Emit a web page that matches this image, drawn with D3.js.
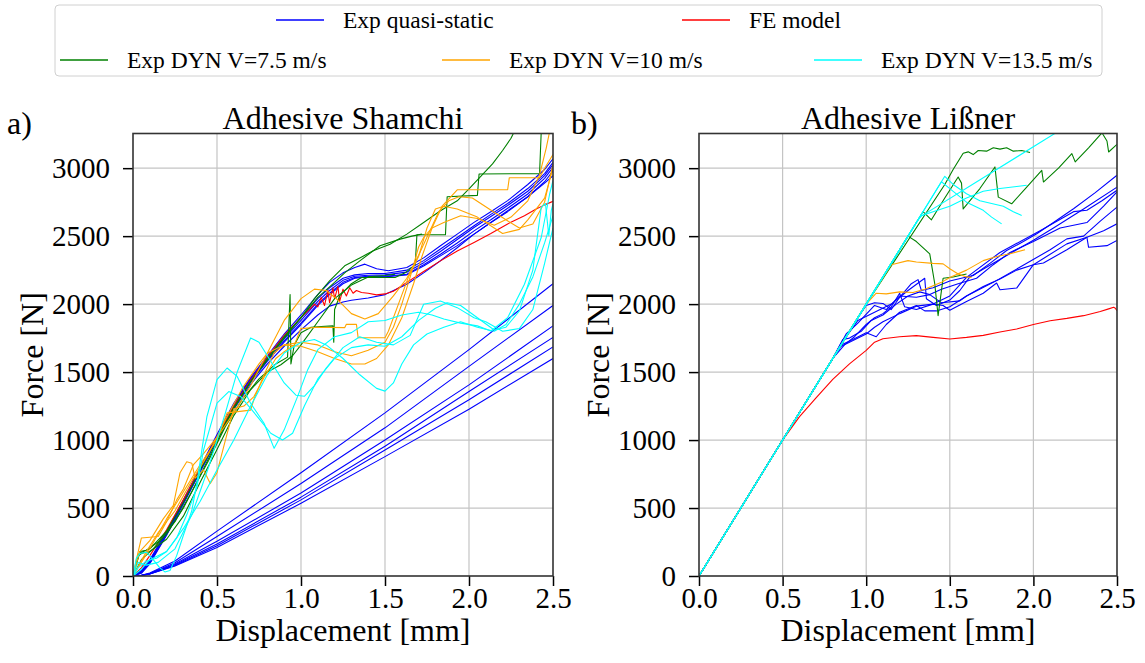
<!DOCTYPE html>
<html><head><meta charset="utf-8">
<script src="https://cdn.jsdelivr.net/npm/d3@7"></script>
<style>html,body{margin:0;padding:0;background:#fff;} svg{display:block;} text{font-family:"Liberation Serif","Times New Roman",serif;fill:#000;}</style>
</head><body>
<script>
// ---------- ticks / labels ----------
const xTicks = [0, 0.5, 1.0, 1.5, 2.0, 2.5];
const yTicks = [0, 500, 1000, 1500, 2000, 2500, 3000];
const panelTitles = ["Adhesive Shamchi", "Adhesive Li\u00dfner"];
const panelLetters = ["a)", "b)"];
const legendLabels = ["Exp quasi-static", "FE model", "Exp DYN V=7.5 m/s", "Exp DYN V=10 m/s", "Exp DYN V=13.5 m/s"];

// ---------- panel a: Shamchi ----------
const shamchiQuasiStatic = [
 [[0,0],[0.05,40],[0.1,120],[0.2,330],[0.3,560],[0.4,800],[0.5,1040],[0.6,1270],[0.7,1460],[0.8,1620],[0.9,1780],[1.0,1920],[1.1,2070],[1.17,2160],[1.25,2230],[1.32,2270],[1.38,2294],[1.45,2260],[1.52,2245],[1.63,2269],[1.73,2340],[1.83,2429],[1.93,2515],[2.03,2601],[2.13,2680],[2.23,2761],[2.35,2880],[2.45,2990],[2.5,3068]],
 [[0,0],[0.05,35],[0.1,110],[0.2,320],[0.3,550],[0.4,790],[0.5,1030],[0.6,1260],[0.7,1450],[0.8,1610],[0.9,1760],[1.0,1900],[1.1,2040],[1.17,2120],[1.25,2190],[1.32,2215],[1.4,2225],[1.5,2225],[1.63,2250],[1.73,2320],[1.83,2405],[1.93,2490],[2.03,2576],[2.13,2660],[2.23,2740],[2.35,2850],[2.45,2960],[2.5,3043]],
 [[0,0],[0.05,30],[0.1,105],[0.2,315],[0.3,545],[0.4,785],[0.5,1025],[0.6,1255],[0.7,1445],[0.8,1600],[0.9,1745],[1.0,1880],[1.1,2020],[1.17,2100],[1.25,2175],[1.32,2205],[1.4,2212],[1.5,2215],[1.63,2235],[1.73,2305],[1.83,2387],[1.93,2475],[2.03,2564],[2.13,2645],[2.23,2725],[2.35,2830],[2.45,2945],[2.5,3026]],
 [[0,0],[0.05,28],[0.1,100],[0.2,310],[0.3,540],[0.4,780],[0.5,1015],[0.6,1245],[0.7,1435],[0.8,1590],[0.9,1730],[1.0,1860],[1.1,2000],[1.17,2080],[1.25,2160],[1.32,2195],[1.4,2205],[1.5,2205],[1.63,2220],[1.73,2290],[1.83,2367],[1.93,2450],[2.03,2539],[2.13,2620],[2.23,2705],[2.35,2810],[2.45,2925],[2.5,3006]],
 [[0,0],[0.05,25],[0.1,95],[0.2,305],[0.3,535],[0.4,775],[0.5,1010],[0.6,1240],[0.7,1425],[0.8,1580],[0.9,1720],[1.0,1850],[1.1,1990],[1.17,2070],[1.25,2150],[1.32,2190],[1.4,2200],[1.5,2200],[1.63,2215],[1.73,2280],[1.83,2355],[1.93,2430],[2.03,2515],[2.13,2600],[2.23,2680],[2.35,2790],[2.45,2900],[2.5,2981]],
 [[0,0],[0.05,20],[0.1,90],[0.2,300],[0.3,530],[0.4,765],[0.5,1000],[0.6,1225],[0.7,1410],[0.8,1560],[0.9,1690],[1.0,1810],[1.1,1920],[1.17,1985],[1.25,2015],[1.3,2028],[1.4,2045],[1.5,2070],[1.63,2146],[1.73,2230],[1.83,2319],[1.93,2415],[2.03,2515],[2.13,2600],[2.23,2687],[2.35,2790],[2.45,2890],[2.5,2945]],
 [[0,0],[0.05,6],[0.1,22],[0.25,110],[0.5,330],[1.0,760],[1.5,1200],[2.0,1665],[2.5,2150]],
 [[0,0],[0.05,5],[0.1,19],[0.25,98],[0.5,290],[1.0,680],[1.5,1090],[2.0,1542],[2.5,1990]],
 [[0,0],[0.05,5],[0.1,17],[0.25,88],[0.5,255],[1.0,610],[1.5,1000],[2.0,1406],[2.5,1840]],
 [[0,0],[0.05,4],[0.1,16],[0.25,82],[0.5,235],[1.0,580],[1.5,955],[2.0,1357],[2.5,1755]],
 [[0,0],[0.05,4],[0.1,15],[0.25,78],[0.5,222],[1.0,560],[1.5,927],[2.0,1296],[2.5,1685]],
 [[0,0],[0.05,4],[0.1,14],[0.25,74],[0.5,210],[1.0,535],[1.5,878],[2.0,1227],[2.5,1600]]
];
const shamchiFE = [
 [[0,0],[0.05,60],[0.1,150],[0.2,340],[0.3,560],[0.4,790],[0.5,1020],[0.6,1250],[0.7,1440],[0.8,1610],[0.9,1770],[1.0,1900],[1.05,1960],[1.08,2000],[1.1,1980],[1.12,2050],[1.14,1990],[1.16,2100],[1.17,2010],[1.19,2120],[1.2,2040],[1.22,2130],[1.23,2020],[1.25,2110],[1.27,2060],[1.29,2120],[1.31,2080],[1.33,2100],[1.36,2085],[1.4,2080],[1.45,2068],[1.5,2075],[1.55,2095],[1.63,2160],[1.73,2240],[1.83,2318],[1.93,2390],[2.03,2454],[2.13,2520],[2.23,2590],[2.33,2650],[2.4,2700],[2.45,2730],[2.5,2756]]
];
const shamchiDyn75 = [
 [[0,0],[0.04,170],[0.1,200],[0.2,330],[0.3,540],[0.4,780],[0.5,1010],[0.6,1240],[0.7,1430],[0.8,1600],[0.9,1760],[1.0,1900],[1.08,2040],[1.17,2171],[1.26,2282],[1.35,2340],[1.43,2392],[1.53,2440],[1.63,2515],[1.73,2600],[1.83,2687],[1.93,2760],[2.0,2847],[2.07,2940],[2.14,3031],[2.2,3130],[2.25,3220],[2.27,3270]],
 [[0,0],[0.05,120],[0.12,200],[0.2,310],[0.3,500],[0.4,740],[0.5,990],[0.6,1230],[0.7,1430],[0.8,1590],[0.9,1750],[1.0,1900],[1.1,2050],[1.2,2160],[1.26,2230],[1.35,2318],[1.47,2429],[1.59,2478],[1.66,2500],[1.72,2515]],
 [[0,0],[0.04,180],[0.08,190],[0.15,250],[0.25,400],[0.35,620],[0.45,850],[0.55,1100],[0.65,1300],[0.75,1450],[0.85,1560],[0.92,1610],[0.935,2070],[0.94,1560],[0.96,1700],[1.0,1790],[1.06,1830],[1.12,1835],[1.19,1840],[1.195,1720],[1.2,1960],[1.23,2060],[1.3,2150],[1.36,2196],[1.56,2196],[1.62,2230],[1.68,2290],[1.69,2510],[1.86,2510],[1.87,2790],[2.05,2800],[2.06,2957],[2.42,2960],[2.43,3270]],
 [[0,0],[0.03,150],[0.06,170],[0.1,180],[0.2,270],[0.3,440],[0.4,690],[0.5,930],[0.6,1180],[0.7,1370],[0.8,1500],[0.88,1554],[0.95,1620],[1.0,1700],[1.1,1870],[1.2,2040],[1.3,2140],[1.4,2200],[1.5,2210],[1.56,2220]]
];
const shamchiDyn10 = [
 [[0,0],[0.02,120],[0.05,280],[0.15,290],[0.2,400],[0.26,560],[0.3,640],[0.36,820],[0.42,900],[0.5,1020],[0.6,1200],[0.7,1400],[0.8,1640],[0.9,1880],[1.0,2040],[1.08,2110],[1.15,2100],[1.22,2030],[1.3,1930],[1.38,1890],[1.46,1930],[1.55,2060],[1.63,2190],[1.7,2360],[1.76,2520],[1.82,2680],[1.88,2760],[1.94,2790],[2.02,2780],[2.12,2700],[2.22,2620],[2.3,2560],[2.38,2590],[2.45,2750],[2.5,3030]],
 [[0,0],[0.04,180],[0.1,260],[0.18,420],[0.24,520],[0.28,760],[0.32,840],[0.35,830],[0.37,720],[0.42,780],[0.46,680],[0.5,760],[0.55,1000],[0.6,1230],[0.66,1250],[0.72,1320],[0.78,1460],[0.85,1600],[0.9,1650],[0.96,1700],[1.0,1820],[1.1,1830],[1.26,1827],[1.27,1851],[1.33,1851],[1.34,1753],[1.5,1753],[1.52,1800],[1.58,2000],[1.64,2200],[1.7,2350],[1.75,2560],[1.8,2700],[1.85,2720],[1.93,2700],[2.05,2640],[2.15,2560],[2.2,2520],[2.3,2550],[2.35,2620],[2.45,2780],[2.5,3000]],
 [[0,0],[0.1,200],[0.2,420],[0.3,620],[0.4,820],[0.5,1000],[0.56,1200],[0.7,1220],[0.72,1300],[0.78,1480],[0.84,1640],[0.9,1700],[1.0,1690],[1.1,1650],[1.2,1600],[1.3,1560],[1.38,1560],[1.45,1600],[1.52,1700],[1.6,1900],[1.67,2150],[1.72,2350],[1.78,2560],[1.84,2720],[1.93,2841],[2.23,2841],[2.24,2930],[2.42,2930],[2.45,3000],[2.5,3100]],
 [[0,0],[0.08,180],[0.15,320],[0.25,480],[0.35,700],[0.45,900],[0.55,1150],[0.65,1380],[0.75,1560],[0.8,1640],[0.9,1700],[1.0,1720],[1.1,1700],[1.2,1650],[1.3,1620],[1.4,1660],[1.5,1720],[1.55,1830],[1.6,2000],[1.65,2200],[1.7,2420],[1.73,2490],[1.78,2560],[1.85,2600],[1.95,2650],[2.05,2630],[2.15,2580],[2.25,2640],[2.35,2760],[2.42,2950],[2.46,3150],[2.48,3270]]
];
const shamchiDyn135 = [
 [[0,0],[0.02,130],[0.04,165],[0.08,175],[0.12,120],[0.16,60],[0.19,30],[0.22,40],[0.26,150],[0.3,300],[0.35,480],[0.38,681],[0.44,1173],[0.5,1444],[0.56,1530],[0.62,1468],[0.7,1271],[0.78,1124],[0.84,939],[0.9,1075],[0.98,1321],[1.04,1518],[1.1,1665],[1.2,1760],[1.3,1790],[1.4,1870],[1.5,1880],[1.6,1920],[1.7,1940],[1.78,1920],[1.85,1890],[1.95,1860],[2.05,1840],[2.13,1802],[2.23,1900],[2.33,2146],[2.43,2490],[2.48,2810],[2.5,2910]],
 [[0,0],[0.03,60],[0.08,110],[0.14,130],[0.2,180],[0.26,280],[0.32,450],[0.38,650],[0.42,927],[0.5,1271],[0.57,1357],[0.64,1321],[0.74,1173],[0.82,1050],[0.89,1001],[0.95,1050],[1.02,1250],[1.1,1450],[1.2,1600],[1.3,1680],[1.4,1700],[1.5,1690],[1.6,1760],[1.7,1880],[1.8,1970],[1.87,2010],[1.95,1990],[2.05,1900],[2.15,1810],[2.22,1830],[2.3,1950],[2.38,2250],[2.43,2712],[2.455,2740],[2.475,2503],[2.49,2690],[2.5,2740]],
 [[0,0],[0.03,100],[0.08,80],[0.15,100],[0.25,200],[0.35,450],[0.45,800],[0.55,1200],[0.62,1500],[0.7,1751],[0.75,1720],[0.82,1580],[0.9,1420],[0.97,1330],[1.02,1322],[1.08,1400],[1.15,1530],[1.25,1680],[1.35,1760],[1.45,1720],[1.55,1700],[1.65,1770],[1.73,1999],[1.83,2023],[1.93,1974],[2.03,1900],[2.1,1870],[2.2,1800],[2.3,1820],[2.38,1960],[2.45,2300],[2.5,2560]],
 [[0,0],[0.05,50],[0.1,120],[0.2,180],[0.3,350],[0.4,550],[0.5,780],[0.6,1000],[0.7,1250],[0.8,1480],[0.9,1640],[1.0,1720],[1.08,1740],[1.15,1700],[1.25,1600],[1.35,1480],[1.45,1380],[1.5,1360],[1.55,1420],[1.6,1560],[1.67,1700],[1.75,1780],[1.85,1830],[1.95,1870],[2.05,1830],[2.15,1800],[2.22,1850],[2.3,2000],[2.38,2200],[2.45,2450],[2.5,2650]]
];

// ---------- panel b: Lissner ----------
const lissnerQuasiStatic = [
 [[0,0],[0.5,1000],[0.8,1600],[0.86,1720],[0.9,1800],[0.95,1900],[1.0,1990],[1.05,2010],[1.1,2005],[1.15,1960],[1.2,2050],[1.27,2150],[1.31,2180],[1.33,2100],[1.4,2120],[1.5,2170],[1.6,2200],[1.64,2210],[1.74,2300],[1.84,2394],[1.94,2460],[2.02,2517],[2.12,2600],[2.24,2701],[2.37,2820],[2.5,2948]],
 [[0,0],[0.5,1000],[0.8,1600],[0.87,1700],[0.93,1760],[1.0,1850],[1.05,1900],[1.1,1930],[1.15,1980],[1.2,2080],[1.23,1980],[1.3,1960],[1.4,2000],[1.5,2060],[1.6,2197],[1.8,2380],[2.04,2540],[2.24,2680],[2.32,2690],[2.41,2760],[2.5,2837]],
 [[0,0],[0.5,1000],[0.8,1600],[0.86,1740],[0.9,1750],[0.97,1800],[1.03,1880],[1.1,1920],[1.18,2000],[1.25,2060],[1.32,2090],[1.38,2070],[1.45,2110],[1.55,2150],[1.66,2190],[1.76,2290],[1.86,2380],[2.0,2460],[2.16,2560],[2.32,2600],[2.42,2720],[2.5,2825]],
 [[0,0],[0.5,1000],[0.8,1600],[0.85,1700],[0.92,1740],[1.0,1790],[1.06,1760],[1.12,1850],[1.2,1940],[1.3,1990],[1.35,1950],[1.42,1950],[1.5,1980],[1.6,2060],[1.76,2160],[1.96,2300],[2.1,2400],[2.2,2480],[2.3,2500],[2.4,2610],[2.5,2714]],
 [[0,0],[0.5,1000],[0.8,1600],[0.85,1690],[0.9,1720],[1.0,1780],[1.05,1830],[1.1,1870],[1.2,1930],[1.3,1985],[1.4,2000],[1.46,1990],[1.5,1955],[1.6,2020],[1.7,2080],[1.78,2155],[1.8,2106],[1.9,2118],[2.0,2290],[2.2,2443],[2.32,2492],[2.33,2418],[2.44,2430],[2.5,2468]],
 [[0,0],[0.5,1000],[0.8,1600],[0.88,1780],[0.95,1860],[1.05,1990],[1.12,1960],[1.2,2060],[1.3,2050],[1.38,2070],[1.45,2010],[1.56,2024],[1.6,2060],[1.7,2130],[1.8,2184],[1.9,2250],[2.0,2290],[2.06,2302],[2.2,2400],[2.32,2492],[2.42,2540],[2.5,2591]],
 [[0,0],[0.5,1000],[0.8,1600],[0.87,1740],[0.95,1880],[1.05,1940],[1.15,2000],[1.25,2100],[1.35,2190],[1.36,2040],[1.42,1990],[1.5,2030],[1.56,2100],[1.62,2200],[1.76,2300],[1.9,2400],[2.0,2470],[2.12,2560],[2.3,2700],[2.5,2860]]
];
const lissnerFE = [
 [[0,0],[0.5,1000],[0.6,1170],[0.7,1310],[0.8,1446],[0.9,1560],[1.0,1660],[1.05,1720],[1.1,1745],[1.2,1760],[1.3,1768],[1.4,1755],[1.5,1743],[1.6,1755],[1.7,1770],[1.8,1795],[1.9,1817],[2.0,1850],[2.1,1878],[2.2,1895],[2.3,1915],[2.4,1945],[2.45,1965],[2.48,1977],[2.49,1970],[2.5,1952]]
];
const lissnerDyn75 = [
 [[0,0],[1.0,2000],[1.47,2880],[1.52,2990],[1.58,3110],[1.61,3120],[1.64,3100],[1.67,3130],[1.72,3125],[1.76,3150],[1.8,3140],[1.84,3150],[1.88,3125],[1.93,3130],[1.98,3115]],
 [[0,0],[1.0,2000],[1.3,2600],[1.34,2680],[1.39,2620],[1.47,2780],[1.55,2935],[1.57,2890],[1.58,2700],[1.68,2850],[1.77,3009],[1.79,2787],[1.87,2738],[1.96,2860],[2.05,2984],[2.06,2898],[2.15,3000],[2.23,3107],[2.25,3046],[2.33,3150],[2.41,3260],[2.44,3200],[2.45,3119],[2.5,3175]],
 [[0,0],[1.0,2000],[1.25,2500],[1.3,2460],[1.38,2370],[1.41,2150],[1.43,1915],[1.46,2190],[1.52,2200],[1.6,2222]]
];
const lissnerDyn10 = [
 [[0,0],[1.0,2000],[1.15,2290],[1.25,2320],[1.3,2310],[1.4,2300],[1.46,2296],[1.5,2260],[1.55,2222],[1.6,2200],[1.63,2197]],
 [[0,0],[1.0,2000],[1.06,2080],[1.12,2075],[1.2,2090],[1.28,2085],[1.35,2110],[1.45,2160],[1.5,2195],[1.6,2250],[1.7,2320],[1.78,2350],[1.86,2370],[1.95,2400]]
];
const lissnerDyn135 = [
 [[0,0],[1.0,2000],[1.3,2600],[1.33,2650],[1.4,2680],[1.5,2720],[1.6,2780],[1.7,2830],[1.8,2850],[1.9,2865],[1.96,2874]],
 [[0,0],[1.0,2000],[1.47,2940],[1.52,2880],[1.6,2812],[1.68,2760],[1.75,2740],[1.82,2720],[1.88,2680],[1.93,2652]],
 [[0,0],[1.0,2000],[1.45,2900],[1.5,2850],[1.55,2800],[1.6,2750],[1.65,2720],[1.7,2690],[1.75,2640],[1.81,2590]],
 [[0,0],[1.0,2000],[1.32,2640],[2.2,3310]]
];

// ---------- drawing ----------
const W = 1145, H = 663;
const colors = ["#0000ff", "#ff0000", "#008000", "#ffa500", "#00ffff"];
const panels = [
  {left:133, right:553, series:[shamchiQuasiStatic, shamchiFE, shamchiDyn75, shamchiDyn10, shamchiDyn135]},
  {left:699, right:1117, series:[lissnerQuasiStatic, lissnerFE, lissnerDyn75, lissnerDyn10, lissnerDyn135]}
];
const plotTop = 133.5, plotBottom = 576;
const svg = d3.select("body").append("svg").attr("width", W).attr("height", H);

panels.forEach((p, i) => {
  const x = d3.scaleLinear().domain([0, 2.5]).range([p.left, p.right]);
  const y = d3.scaleLinear().domain([0, 3255]).range([plotBottom, plotTop]);
  const g = svg.append("g");
  g.append("g").selectAll("line").data(xTicks.slice(1, -1)).join("line")
    .attr("x1", d => x(d)).attr("x2", d => x(d)).attr("y1", plotTop).attr("y2", plotBottom)
    .attr("stroke", "#c4c4c4").attr("stroke-width", 1.2);
  g.append("g").selectAll("line").data(yTicks.slice(1)).join("line")
    .attr("x1", p.left).attr("x2", p.right).attr("y1", d => y(d)).attr("y2", d => y(d))
    .attr("stroke", "#c4c4c4").attr("stroke-width", 1.2);
  const cid = "clip" + i;
  svg.append("clipPath").attr("id", cid).append("rect")
    .attr("x", p.left).attr("y", plotTop).attr("width", p.right - p.left).attr("height", plotBottom - plotTop);
  const line = d3.line().x(d => x(d[0])).y(d => y(d[1]));
  const dataG = g.append("g").attr("clip-path", `url(#${cid})`);
  p.series.forEach((group, k) => {
    dataG.append("g").selectAll("path").data(group).join("path")
      .attr("d", line).attr("fill", "none").attr("stroke", colors[k])
      .attr("stroke-width", 1.1).attr("stroke-linejoin", "round");
  });
  const ax = g.append("g").attr("transform", `translate(0,${plotBottom})`)
    .call(d3.axisBottom(x).tickValues(xTicks).tickFormat(d3.format(".1f")).tickSize(10).tickPadding(1));
  const ay = g.append("g").attr("transform", `translate(${p.left},0)`)
    .call(d3.axisLeft(y).tickValues(yTicks).tickFormat(d3.format("d")).tickSize(10).tickPadding(13));
  [ax, ay].forEach(a => {
    a.attr("font-family", null).attr("font-size", null);
    a.select(".domain").remove();
    a.selectAll("line").attr("stroke", "#000").attr("stroke-width", 1.5);
    a.selectAll("text").style("font-family", "'Liberation Serif', serif").style("font-size", "29px").attr("fill", "#000");
  });
  g.append("rect").attr("x", p.left).attr("y", plotTop).attr("width", p.right - p.left).attr("height", plotBottom - plotTop)
    .attr("fill", "none").attr("stroke", "#333").attr("stroke-width", 1.6);
  const cx = (p.left + p.right) / 2;
  g.append("text").attr("x", cx).attr("y", 129).attr("text-anchor", "middle")
    .style("font-size", "32px").text(panelTitles[i]);
  g.append("text").attr("x", cx).attr("y", 641).attr("text-anchor", "middle")
    .style("font-size", "32px").text("Displacement [mm]");
  g.append("text").attr("transform", `translate(${p.left - 90},${(plotTop + plotBottom) / 2}) rotate(-90)`)
    .attr("text-anchor", "middle").style("font-size", "32px").text("Force [N]");
  g.append("text").attr("x", i === 0 ? 7 : 571).attr("y", 134).style("font-size", "32px").text(panelLetters[i]);
});

const legendG = svg.append("g");
legendG.append("rect").attr("x", 55).attr("y", 5).attr("width", 1047).attr("height", 71).attr("rx", 4)
  .attr("fill", "#fff").attr("stroke", "#d0d0d0").attr("stroke-width", 1);
const legendPos = [[276, 20], [682, 20], [60, 60], [442, 60], [814, 60]];
legendLabels.forEach((lab, i) => {
  const [lx, ly] = legendPos[i];
  legendG.append("line").attr("x1", lx).attr("x2", lx + 48).attr("y1", ly).attr("y2", ly)
    .attr("stroke", colors[i]).attr("stroke-width", 1.3);
  legendG.append("text").attr("x", lx + 67).attr("y", ly + 8).style("font-size", "23.5px").text(lab);
});
</script>
</body></html>
